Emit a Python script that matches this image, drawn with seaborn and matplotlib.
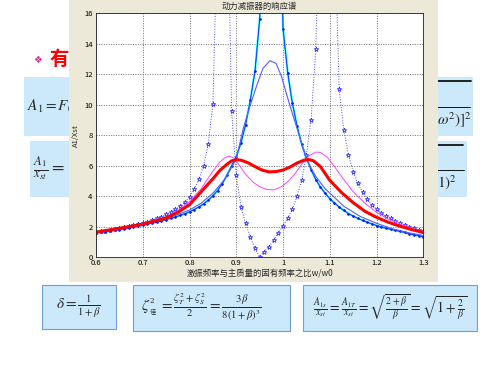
import numpy as np
import matplotlib
matplotlib.use("Agg")
import matplotlib.pyplot as plt
from matplotlib.patches import Rectangle
from matplotlib.lines import Line2D
import seaborn as sns

# sample grid of the two curves drawn with markers (step 0.01)
grid = np.round(np.linspace(0.60, 1.30, 71), 2)

# zeta = 0 (undamped) - blue dotted with stars
zeta0 = [1.66, 1.70, 1.74, 1.79, 1.84, 1.90, 1.96, 2.02, 2.09, 2.17,
         2.25, 2.34, 2.44, 2.55, 2.67, 2.81, 2.97, 3.15, 3.36, 3.61,
         3.95, 4.46, 5.11, 5.97, 7.43, 10.03, 22.0, 90.0, 26.0, 9.6,
         5.37, 3.32, 2.23, 1.31, 0.59, 0.04, 0.37, 0.70, 1.13, 1.61,
         2.05, 2.56, 3.15, 4.02, 5.07, 6.70, 9.00, 13.64, 25.0, 70.0,
         60.0, 22.0, 11.04, 8.35, 6.70, 5.61, 4.85, 4.26, 3.80, 3.43,
         3.15, 2.93, 2.71, 2.56, 2.38, 2.23, 2.12, 2.00, 1.90, 1.80, 1.72]

# zeta = inf - cyan line with blue dots
zeta_inf = [1.60, 1.64, 1.68, 1.72, 1.77, 1.82, 1.87, 1.92, 1.98, 2.04,
            2.10, 2.17, 2.24, 2.31, 2.39, 2.47, 2.56, 2.65, 2.75, 2.86,
            2.98, 3.13, 3.30, 3.50, 3.74, 4.03, 4.38, 4.82, 5.38, 6.00,
            6.60, 7.50, 8.70, 10.3, 12.2, 15.6, 22.0, 45.0, 80.0, 30.0,
            15.0, 12.1, 10.1, 8.60, 7.40, 6.50, 5.75, 5.10, 4.60, 4.20,
            3.85, 3.56, 3.30, 3.07, 2.87, 2.70, 2.55, 2.42, 2.30, 2.19,
            2.08, 1.99, 1.91, 1.84, 1.77, 1.70, 1.63, 1.54, 1.47, 1.41, 1.35]

# large damping - thin blue, single peak
big_x = [0.60, 0.65, 0.70, 0.75, 0.80, 0.825, 0.85, 0.875, 0.90, 0.915, 0.929,
         0.943, 0.957, 0.972, 0.985, 0.997, 1.007, 1.022, 1.03, 1.05, 1.06,
         1.07, 1.09, 1.13, 1.165, 1.20, 1.235, 1.27, 1.30]
big_y = [1.61, 1.84, 2.14, 2.52, 3.10, 3.55, 4.20, 5.10, 6.45, 8.46, 9.88,
         11.19, 12.39, 12.89, 12.72, 11.84, 10.75, 9.22, 8.46, 6.45, 5.85,
         5.30, 4.50, 3.35, 2.68, 2.23, 1.86, 1.60, 1.44]

# small damping - magenta
mag_x = [0.60, 0.65, 0.70, 0.75, 0.775, 0.80, 0.825, 0.85, 0.865, 0.875, 0.885,
         0.895, 0.905, 0.92, 0.935, 0.95, 0.965, 0.98, 0.995, 1.01, 1.025, 1.04,
         1.055, 1.07, 1.08, 1.095, 1.11, 1.125, 1.15, 1.175, 1.20, 1.225, 1.25,
         1.275, 1.30]
mag_y = [1.65, 1.90, 2.18, 2.65, 3.05, 3.65, 4.50, 5.65, 6.25, 6.52, 6.64,
         6.50, 6.10, 5.45, 4.95, 4.62, 4.45, 4.42, 4.60, 4.95, 5.45, 6.10,
         6.65, 6.90, 6.88, 6.55, 5.95, 5.30, 4.30, 3.55, 2.95, 2.50, 2.18,
         1.92, 1.70]

# optimal damping - thick red
red_x = [0.60, 0.65, 0.70, 0.75, 0.775, 0.80, 0.825, 0.85, 0.865, 0.88, 0.89,
         0.90, 0.91, 0.925, 0.94, 0.955, 0.97, 0.985, 1.00, 1.015, 1.03, 1.045,
         1.055, 1.065, 1.08, 1.10, 1.125, 1.15, 1.175, 1.20, 1.225, 1.25,
         1.275, 1.30]
red_y = [1.65, 1.90, 2.17, 2.58, 2.95, 3.45, 4.30, 5.15, 5.70, 6.10, 6.32,
         6.40, 6.37, 6.20, 5.95, 5.72, 5.60, 5.62, 5.72, 5.92, 6.18, 6.37,
         6.41, 6.33, 5.95, 5.05, 4.25, 3.58, 3.02, 2.62, 2.30, 2.04, 1.82,
         1.63]

x_ticks = [0.6, 0.7, 0.8, 0.9, 1.0, 1.1, 1.2, 1.3]
x_ticklabels = ["0.6", "0.7", "0.8", "0.9", "1", "1.1", "1.2", "1.3"]
y_ticks = [0, 2, 4, 6, 8, 10, 12, 14, 16]

sns.set_style("white")
plt.rcParams['font.family'] = ['Noto Sans CJK SC', 'DejaVu Sans']
plt.rcParams['mathtext.fontset'] = 'stix'
plt.rcParams['axes.unicode_minus'] = False


def fx(px):
    return px / 500


def fy(py):
    return 1 - py / 375


fig = plt.figure(figsize=(5, 3.75), dpi=100)
fig.patch.set_facecolor("white")

# slide background boxes
box_fill = "#cce9fb"
slide_boxes = [(24, 77, 100, 59), (30, 141, 100, 56), (400, 77, 73, 59), (400, 141, 67, 56)]
for x0, y0, w, h in slide_boxes:
    fig.add_artist(Rectangle((fx(x0), fy(y0 + h)), w / 500, h / 375, transform=fig.transFigure,
                             facecolor=box_fill, edgecolor="none", zorder=-3))
bottom_boxes = [(42, 285, 74, 44), (133, 285, 157, 46), (303, 285, 174, 46)]
for x0, y0, w, h in bottom_boxes:
    fig.add_artist(Rectangle((fx(x0), fy(y0 + h)), w / 500, h / 375, transform=fig.transFigure,
                             facecolor=box_fill, edgecolor="#6f9fd8", lw=0.8, zorder=-3))

fig.text(fx(38), fy(60), "❖", color="#d0308a", fontsize=7, ha="center", va="center",
         family="DejaVu Sans", zorder=-2)
fig.text(fx(50), fy(59), "有", color="red", fontsize=14, fontweight="bold", ha="left",
         va="center", zorder=-2)
fig.text(fx(27), fy(106), r"$A_1 = F_0$", fontsize=11, ha="left", va="center", zorder=-2)
fig.text(fx(33), fy(169), r"$\frac{A_1}{x_{st}} =$", fontsize=13, ha="left", va="center", zorder=-2)
fig.text(fx(437), fy(120), r"$\omega^2)]^2$", fontsize=11, ha="left", va="center", zorder=-2)
fig.text(fx(437), fy(183), r"$1)^2$", fontsize=11, ha="left", va="center", zorder=-2)
for x0, x1, yy, lw in [(420, 471, 80.7, 1.3), (420, 470, 106.7, 0.7),
                       (420, 463, 145, 1.3), (420, 464, 170, 0.7)]:
    fig.add_artist(Line2D([fx(x0), fx(x1)], [fy(yy), fy(yy)], transform=fig.transFigure,
                          color="#111111", lw=lw, zorder=-2))

fig.text(fx(79), fy(307), r"$\delta = \frac{1}{1+\beta}$", fontsize=11, ha="center",
         va="center", zorder=-2)
fig.text(fx(141), fy(306), r"$\zeta$", fontsize=11, ha="left", va="center", zorder=-2)
fig.text(fx(149.5), fy(301), "2", fontsize=5, family="DejaVu Serif", ha="left",
         va="center", zorder=-2)
fig.text(fx(149.5), fy(311.5), "佳", fontsize=4.5, ha="left", va="center", zorder=-2)
fig.text(fx(159), fy(307), r"$=\frac{\zeta_T^2+\zeta_S^2}{2}=\frac{3\beta}{8(1+\beta)^3}$",
         fontsize=11, ha="left", va="center", zorder=-2)
fig.text(fx(390), fy(307),
         r"$\frac{A_{1s}}{x_{st}}=\frac{A_{1T}}{x_{st}}=\sqrt{\frac{2+\beta}{\beta}}=\sqrt{1+\frac{2}{\beta}}$",
         fontsize=10, ha="center", va="center", zorder=-2)

# matlab figure window
fig.add_artist(Rectangle((fx(69), fy(282)), (438 - 69) / 500, 282 / 375, transform=fig.transFigure,
                         facecolor="#ece9d8", edgecolor="none", zorder=-1))

ax = fig.add_axes([fx(96), fy(257.3), (423.3 - 96) / 500, (257.3 - 13.3) / 375])

sns.lineplot(x=grid, y=zeta0, ax=ax, color="#4848ff", linestyle=":", lw=0.7,
             marker="*", markersize=3.5, markerfacecolor="#e8e8ff", markeredgecolor="#2020ff",
             markeredgewidth=0.5, estimator=None, sort=False)
sns.lineplot(x=grid, y=zeta_inf, ax=ax, color="#00e5ff", lw=1.4, estimator=None, sort=False)
sns.lineplot(x=grid, y=zeta_inf, ax=ax, color="#1010ff", lw=0.5,
             marker=".", markersize=2.2, markeredgecolor="#1010ff", estimator=None, sort=False)
sns.lineplot(x=big_x, y=big_y, ax=ax, color="#5a5aff", lw=0.8, estimator=None, sort=False)
sns.lineplot(x=mag_x, y=mag_y, ax=ax, color="#ff44ff", lw=0.7, estimator=None, sort=False)
sns.lineplot(x=red_x, y=red_y, ax=ax, color="#ff0000", lw=2.2, estimator=None, sort=False)

ax.set_xlim(0.6, 1.3)
ax.set_ylim(0, 16)
ax.set_xticks(x_ticks)
ax.set_xticklabels(x_ticklabels)
ax.set_yticks(y_ticks)
ax.tick_params(direction="in", length=3, width=0.5, labelsize=5.5, pad=1.5, colors="black")
ax.tick_params(axis="y", pad=2.5)
ax.grid(True, color="#444444", linestyle=(0, (1.5, 2)), lw=0.5)
for sp in ax.spines.values():
    sp.set_color("#222222")
    sp.set_linewidth(0.6)
ax.set_title("动力减振器的响应谱", fontsize=6, pad=3)
ax.set_xlabel("激振频率与主质量的固有频率之比w/w0", fontsize=6, labelpad=1)
ax.set_ylabel("A1/Xst", fontsize=5.5, labelpad=3)

fig.savefig("out.png", dpi=100)
